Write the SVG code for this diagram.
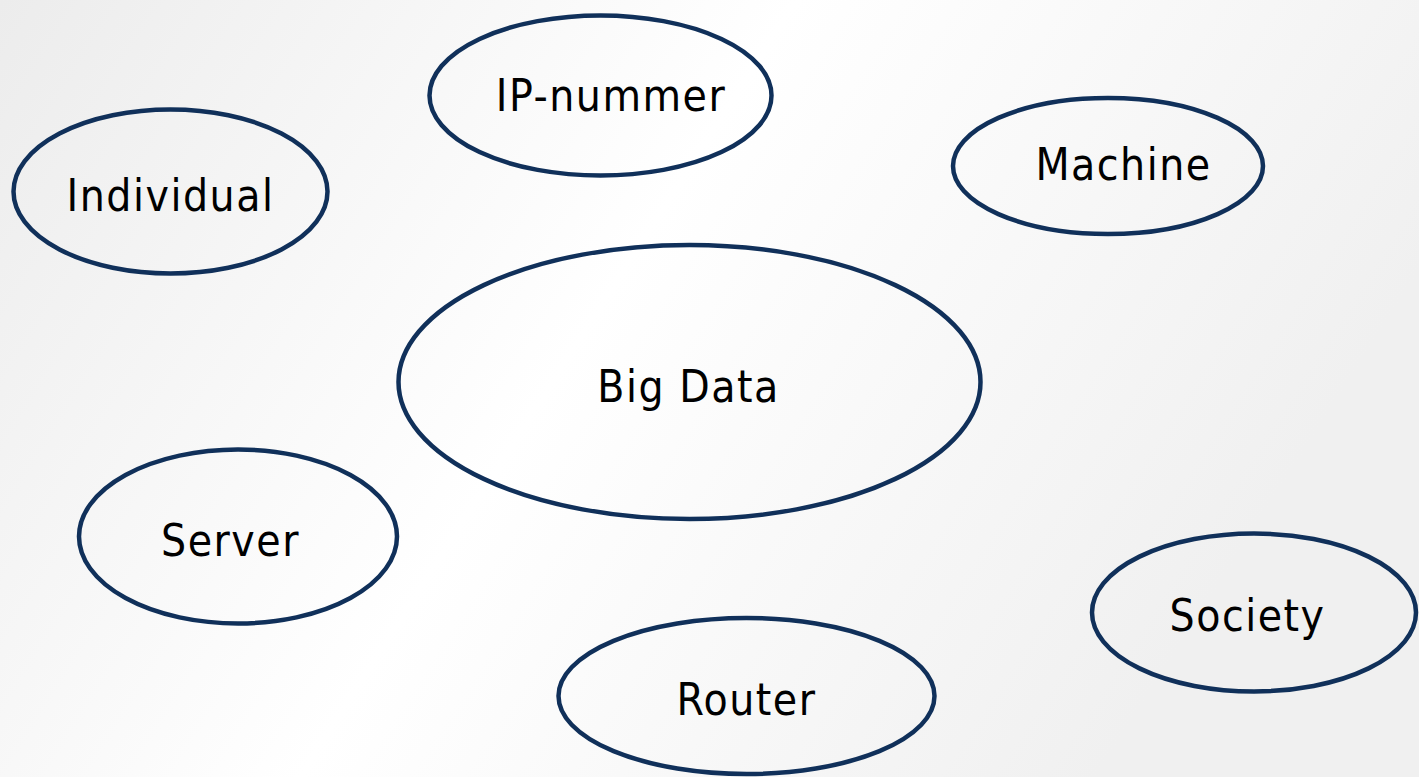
<svg xmlns="http://www.w3.org/2000/svg" width="1419" height="777" viewBox="0 0 1419 777">
<defs>
<linearGradient id="bg" x1="0" y1="0" x2="1" y2="0.35">
<stop offset="0" stop-color="#ececec"/>
<stop offset="0.5" stop-color="#ffffff"/>
<stop offset="1" stop-color="#f0f0f0"/>
</linearGradient>
</defs>
<style>
.n ellipse{fill:none;stroke:#10305a;stroke-width:4.5}
.n text{font-family:"DejaVu Sans Condensed","DejaVu Sans",sans-serif;font-size:44px;letter-spacing:1.5px;fill:#000;text-anchor:middle}
</style>
<rect width="1419" height="777" fill="url(#bg)"/>
<g id="connectors"></g>
<g id="individual" class="n"><ellipse cx="170.5" cy="191.5" rx="157" ry="82"/><text x="170.5" y="211">Individual</text></g>
<g id="ipnummer" class="n"><ellipse cx="600.5" cy="95.5" rx="171" ry="80"/><text x="611" y="111">IP-nummer</text></g>
<g id="machine" class="n"><ellipse cx="1108" cy="166" rx="155" ry="68"/><text x="1123.5" y="180">Machine</text></g>
<g id="bigdata" class="n"><ellipse cx="689.5" cy="382" rx="291" ry="137"/><text x="688.5" y="402">Big Data</text></g>
<g id="server" class="n"><ellipse cx="238" cy="536.5" rx="159" ry="87"/><text x="230.5" y="556">Server</text></g>
<g id="society" class="n"><ellipse cx="1254" cy="612.5" rx="162" ry="79"/><text x="1247.5" y="631">Society</text></g>
<g id="router" class="n"><ellipse cx="746.5" cy="696" rx="188" ry="78"/><text x="746.5" y="715">Router</text></g>
</svg>
